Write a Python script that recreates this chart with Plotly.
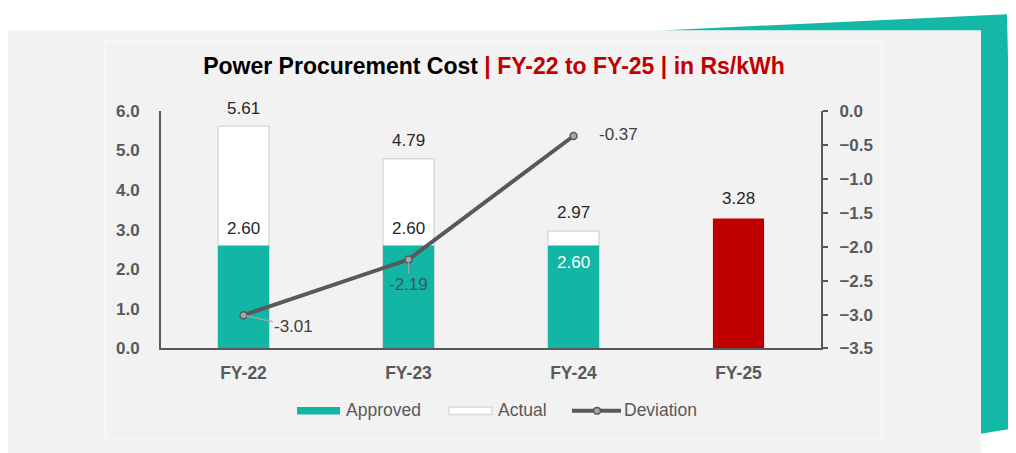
import plotly.graph_objects as go

# ---------------- data ----------------
categories = ["FY-22", "FY-23", "FY-24", "FY-25"]
approved = [2.60, 2.60, 2.60, None]
actual = [5.61, 4.79, 2.97, None]
projected = [None, None, None, 3.28]
dev_categories = ["FY-22", "FY-23", "FY-24"]
deviation = [-3.01, -2.19, -0.37]
left_ticks = [0, 1, 2, 3, 4, 5, 6]
right_ticks = [0.0, -0.5, -1.0, -1.5, -2.0, -2.5, -3.0, -3.5]

W, H = 1016, 453
OFF = 8  # page body margin


def px(x):
    return (x - OFF) / W


def py(y):
    return 1 - (y - OFF) / H


TEAL = "#13B5A4"
RED = "#C00000"
GREY = "#595959"
FONT = "Liberation Sans, Arial, sans-serif"

fig = go.Figure()

fig.add_trace(go.Bar(
    x=categories, y=actual, name="Actual", width=0.31,
    marker=dict(color="#FFFFFF", line=dict(color="#D9D9D9", width=1.5)),
    showlegend=False, hoverinfo="x+y",
))
fig.add_trace(go.Bar(
    x=categories, y=approved, name="Approved", width=0.31,
    marker=dict(color=TEAL, line=dict(width=0)),
    showlegend=False, hoverinfo="x+y",
))
fig.add_trace(go.Bar(
    x=categories, y=projected, name="FY-25", width=0.31,
    marker=dict(color=RED, line=dict(width=0)),
    showlegend=False, hoverinfo="x+y",
))
fig.add_trace(go.Scatter(
    x=dev_categories, y=deviation, name="Deviation", yaxis="y2",
    mode="lines+markers",
    line=dict(color=GREY, width=4),
    marker=dict(size=7, color="#A6A6A6", line=dict(color=GREY, width=1.5)),
    showlegend=False, hoverinfo="x+y",
))

LBL = 17
annotations = []
# value labels for actual bars
for c, v in zip(categories, actual):
    if v is None:
        continue
    annotations.append(dict(x=c, y=v, xref="x", yref="y", text=f"{v:.2f}",
                            showarrow=False, yanchor="middle", yshift=18,
                            font=dict(family=FONT, size=LBL, color="#262626")))
# approved labels
for i, (c, v) in enumerate(zip(categories, approved)):
    if v is None:
        continue
    inside = actual[i] is not None and actual[i] - v < 0.6
    annotations.append(dict(x=c, y=v, xref="x", yref="y", text=f"{v:.2f}",
                            showarrow=False, yanchor="middle",
                            yshift=-17 if inside else 17,
                            font=dict(family=FONT, size=LBL,
                                      color="#FFFFFF" if inside else "#262626")))
for c, v in zip(categories, projected):
    if v is None:
        continue
    annotations.append(dict(x=c, y=v, xref="x", yref="y", text=f"{v:.2f}",
                            showarrow=False, yanchor="middle", yshift=20,
                            font=dict(family=FONT, size=LBL, color="#262626")))
# deviation labels
dev_offsets = [(50, 11, True, "#404040"), (0, 25, True, "#2F5F5A"), (45, -2, False, "#404040")]
for c, v, (ax, ay, arr, col) in zip(dev_categories, deviation, dev_offsets):
    if arr:
        annotations.append(dict(x=c, y=v, xref="x", yref="y2", text=f"{v:.2f}",
                                showarrow=True, arrowhead=0, arrowwidth=1.2,
                                arrowcolor="#A6A6A6", ax=ax, ay=ay, standoff=3,
                                font=dict(family=FONT, size=LBL, color=col)))
    else:
        annotations.append(dict(x=c, y=v, xref="x", yref="y2", text=f"{v:.2f}",
                                showarrow=False, xshift=ax, yshift=-ay,
                                font=dict(family=FONT, size=LBL, color=col)))

# legend (drawn manually to match the original's long symbols)
legend_font = dict(family=FONT, size=17.5, color=GREY)
annotations += [
    dict(x=px(344), y=py(418), xref="paper", yref="paper", text="Approved",
         showarrow=False, xanchor="left", yanchor="middle", font=legend_font),
    dict(x=px(496), y=py(418), xref="paper", yref="paper", text="Actual",
         showarrow=False, xanchor="left", yanchor="middle", font=legend_font),
    dict(x=px(622), y=py(418), xref="paper", yref="paper", text="Deviation",
         showarrow=False, xanchor="left", yanchor="middle", font=legend_font),
]

shapes = [
    # teal decorative shape
    dict(type="path", xref="paper", yref="paper", layer="below",
         path=f"M {px(660)},{py(22)} L {px(1007)},{py(5)} L {px(1016)},{py(437)} "
              f"L {px(981)},{py(443)} L {px(981)},{py(22)} Z",
         fillcolor="#13B8A6", line=dict(width=0)),
    # grey panel
    dict(type="rect", xref="paper", yref="paper", layer="below",
         x0=px(3), x1=px(981), y0=py(470), y1=py(22),
         fillcolor="#F2F2F2", line=dict(width=0)),
    # faint inner frame
    dict(type="rect", xref="paper", yref="paper", layer="below",
         x0=px(105), x1=px(882), y0=py(448), y1=py(33),
         fillcolor="rgba(0,0,0,0)", line=dict(color="#F7F7F7", width=1.5)),
    # legend symbols
    dict(type="rect", xref="paper", yref="paper",
         x0=px(297), x1=px(340), y0=py(423), y1=py(415),
         fillcolor=TEAL, line=dict(width=0)),
    dict(type="rect", xref="paper", yref="paper",
         x0=px(449), x1=px(492), y0=py(423), y1=py(415),
         fillcolor="#FFFFFF", line=dict(color="#D9D9D9", width=1.5)),
    dict(type="line", xref="paper", yref="paper",
         x0=px(572), x1=px(621), y0=py(419), y1=py(419),
         line=dict(color=GREY, width=4)),
    dict(type="circle", xref="paper", yref="paper",
         x0=px(593.5), x1=px(600.5), y0=py(422.5), y1=py(415.5),
         fillcolor="#A6A6A6", line=dict(color=GREY, width=1.5)),
]

fig.update_layout(
    width=W, height=H, autosize=False,
    margin=dict(l=0, r=0, t=0, b=0),
    paper_bgcolor="#FFFFFF", plot_bgcolor="rgba(0,0,0,0)",
    barmode="overlay", showlegend=False,
    title=dict(
        text="<b>Power Procurement Cost</b><b><span style='color:#C00000'> | FY-22 to FY-25 | in Rs/kWh</span></b>",
        x=px(494), y=py(66), xanchor="center", yanchor="middle",
        font=dict(family=FONT, size=23, color="#000000"),
    ),
    xaxis=dict(
        domain=[px(161), px(821)], type="category", categoryorder="array",
        categoryarray=categories, range=[-0.5, 3.5],
        showline=True, linecolor=GREY, linewidth=2, ticks="",
        showgrid=False, zeroline=False,
        tickfont=dict(family=FONT, size=17.5, color=GREY, weight="bold"),
        ticklabelstandoff=8,
    ),
    yaxis=dict(
        domain=[py(354), py(106)], range=[0, 6], tickvals=left_ticks,
        tickformat=".1f", showline=True, linecolor=GREY, linewidth=2,
        ticks="", showgrid=False, zeroline=False,
        tickfont=dict(family=FONT, size=17, color=GREY, weight="bold"),
        ticklabelstandoff=16,
    ),
    yaxis2=dict(
        overlaying="y", side="right", anchor="x", range=[-3.5, 0],
        tickvals=right_ticks, tickformat=".1f", showline=True,
        linecolor=GREY, linewidth=2, ticks="outside", ticklen=5,
        tickcolor=GREY, tickwidth=2, showgrid=False, zeroline=False,
        tickfont=dict(family=FONT, size=17, color=GREY, weight="bold"),
        ticklabelstandoff=8,
    ),
    shapes=shapes, annotations=annotations,
)

fig.write_html("out.html")
